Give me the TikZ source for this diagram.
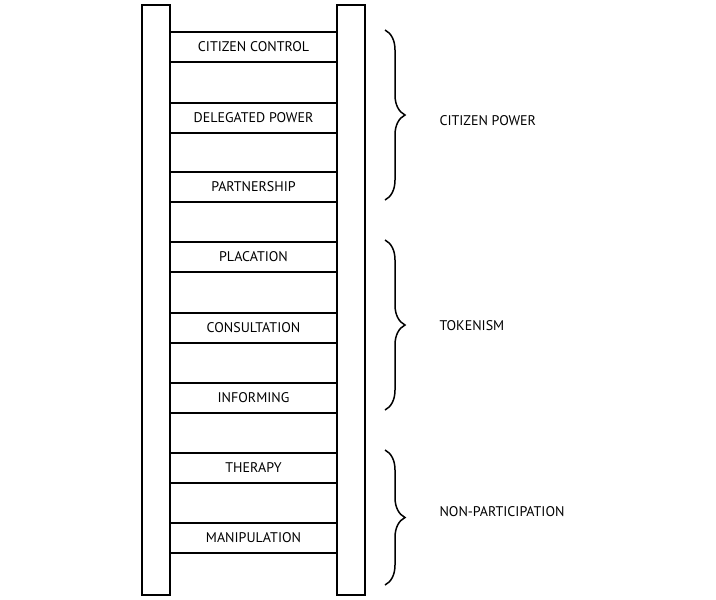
\documentclass[tikz,border=0pt]{standalone}
\usepackage{fontspec}
\setmainfont{PT Sans}
\usetikzlibrary{positioning,decorations.pathreplacing}
\begin{document}
\begin{tikzpicture}[x=1pt,y=-1pt]
    \tikzstyle{rail} = [rectangle, draw, line width=1.8pt, minimum width=28pt, minimum height=590pt, inner sep=0pt]
    \tikzstyle{rung} = [rectangle, draw, line width=1.8pt, minimum width=167pt, minimum height=30pt, inner sep=0pt, font=\fontsize{14}{14}\selectfont]
    \tikzstyle{brace} = [line width=1.5pt, decorate, decoration={brace, amplitude=20pt}]
    \tikzstyle{group} = [right, font=\fontsize{14}{14}\selectfont]

    \useasboundingbox (0,0) rectangle (716,600);
    \node[rail] (left) at (156,300) {};
    \node[rail] (right) at (351,300) {};

    \node[rung] (control) at (253.5,47) {CITIZEN CONTROL};
    \node[rung] (delegated) at (253.5,118) {DELEGATED POWER};
    \node[rung] (partnership) at (253.5,187) {PARTNERSHIP};
    \node[rung] (placation) at (253.5,257) {PLACATION};
    \node[rung] (consultation) at (253.5,328) {CONSULTATION};
    \node[rung] (informing) at (253.5,398) {INFORMING};
    \node[rung] (therapy) at (253.5,468) {THERAPY};
    \node[rung] (manipulation) at (253.5,538) {MANIPULATION};

    \coordinate (powertop) at (385,30);
    \coordinate (powerbot) at (385,200);
    \coordinate (tokentop) at (385,240);
    \coordinate (tokenbot) at (385,410);
    \coordinate (nontop) at (385,450);
    \coordinate (nonbot) at (385,585);

    \draw[brace] (powertop) -- (powerbot);
    \draw[brace] (tokentop) -- (tokenbot);
    \draw[brace] (nontop) -- (nonbot);

    \node[group] (power) at (436,121) {CITIZEN POWER};
    \node[group] (tokenism) at (436,326) {TOKENISM};
    \node[group] (nonpart) at (436,512) {NON-PARTICIPATION};
\end{tikzpicture}
\end{document}
